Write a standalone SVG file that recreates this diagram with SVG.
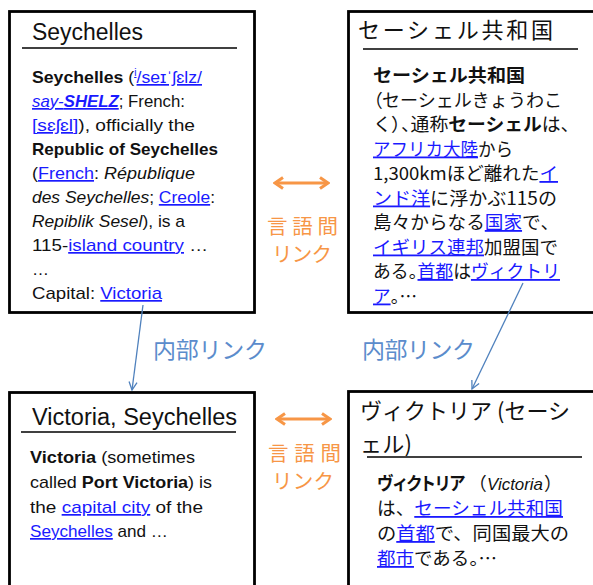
<svg xmlns="http://www.w3.org/2000/svg" width="593" height="585" viewBox="0 0 593 585">
<defs>
<style>
.box{fill:#fff;stroke:#000;stroke-width:2.8}
.rule{stroke:#000;stroke-width:1.5}
.t{font-family:"Liberation Sans",Arial,sans-serif;font-size:17px;fill:#111}
.title{font-family:"Liberation Sans",Arial,sans-serif;font-size:23px;fill:#111}
.jt{font-family:"Noto Sans CJK JP","Liberation Sans",sans-serif;font-size:22px;fill:#111}
.j{font-family:"Noto Sans CJK JP","Liberation Sans",sans-serif;font-size:18px;fill:#111}
.p{font-feature-settings:"palt"}
.b{font-weight:bold}
.i{font-style:italic}
.a{fill:#1a1aff;text-decoration:underline}
.blue{stroke:#4f81bd;stroke-width:1.3;fill:none}
.orange{stroke:#f79646;stroke-width:3;fill:none}
.lb{font-family:"Noto Sans CJK JP",sans-serif;font-size:23px;fill:#5b8ccc}
.lo{font-family:"Noto Sans CJK JP",sans-serif;font-size:20.5px;fill:#f79646}
</style>
<marker id="ab" viewBox="0 0 10 10" refX="9" refY="5" markerWidth="10" markerHeight="10" markerUnits="userSpaceOnUse" orient="auto"><path d="M1,1 L9,5 L1,9" fill="none" stroke="#4f81bd" stroke-width="1.3"/></marker>
<marker id="ao" viewBox="0 0 12 14" refX="10" refY="7" markerWidth="12" markerHeight="14" markerUnits="userSpaceOnUse" orient="auto-start-reverse"><path d="M2,1.5 L10,7 L2,12.5" fill="none" stroke="#f79646" stroke-width="3" stroke-linejoin="miter"/></marker>
</defs>
<rect width="593" height="585" fill="#fff"/>

<g id="seychelles-en">
<rect class="box" x="9.5" y="11.5" width="245" height="301"/>
<text class="title" x="32" y="40" textLength="111" lengthAdjust="spacingAndGlyphs">Seychelles</text>
<line class="rule" x1="22" y1="48" x2="237" y2="48"/>
<text class="t" x="32" y="83" textLength="170" lengthAdjust="spacingAndGlyphs"><tspan class="b">Seychelles</tspan> (<tspan class="a"><tspan font-size="10" dy="-7">i</tspan><tspan dy="7">/seɪˈʃɛlz/</tspan></tspan></text>
<text class="t" x="32" y="107" textLength="153" lengthAdjust="spacingAndGlyphs"><tspan class="a i">say-<tspan class="b">SHELZ</tspan></tspan>; French:</text>
<text class="t" x="32" y="131" textLength="163" lengthAdjust="spacingAndGlyphs"><tspan class="a">[sɛʃɛl]</tspan>), officially the</text>
<text class="t b" x="32" y="155" textLength="186" lengthAdjust="spacingAndGlyphs">Republic of Seychelles</text>
<text class="t" x="32" y="179" textLength="163" lengthAdjust="spacingAndGlyphs">(<tspan class="a">French</tspan>: <tspan class="i">République</tspan></text>
<text class="t" x="32" y="203" textLength="183" lengthAdjust="spacingAndGlyphs"><tspan class="i">des Seychelles</tspan>; <tspan class="a">Creole</tspan>:</text>
<text class="t" x="32" y="227" textLength="153" lengthAdjust="spacingAndGlyphs"><tspan class="i">Repiblik Sesel</tspan>), is a</text>
<text class="t" x="32" y="251" textLength="176" lengthAdjust="spacingAndGlyphs">115-<tspan class="a">island country</tspan> …</text>
<text class="t" x="32" y="275">…</text>
<text class="t" x="32" y="299" textLength="130" lengthAdjust="spacingAndGlyphs">Capital: <tspan class="a">Victoria</tspan></text>
</g>

<g id="seychelles-ja">
<rect class="box" x="348.5" y="11.5" width="260" height="301"/>
<text class="jt" x="358" y="38" textLength="195" lengthAdjust="spacing">セーシェル共和国</text>
<line class="rule" x1="363" y1="49" x2="578" y2="49"/>
<text class="j b" x="373" y="82" textLength="152" lengthAdjust="spacingAndGlyphs">セーシェル共和国</text>
<text class="j" x="373" y="106.5" textLength="189" lengthAdjust="spacingAndGlyphs"><tspan class="p">（</tspan>セーシェルきょうわこ</text>
<text class="j" x="373" y="131" textLength="197" lengthAdjust="spacingAndGlyphs">く<tspan class="p">）、</tspan>通称<tspan class="b">セーシェル</tspan>は<tspan class="p">、</tspan></text>
<text class="j" x="373" y="155.5" textLength="140" lengthAdjust="spacingAndGlyphs"><tspan class="a">アフリカ大陸</tspan>から</text>
<text class="j" x="373" y="180" textLength="185" lengthAdjust="spacingAndGlyphs">1,300kmほど離れた<tspan class="a">イ</tspan></text>
<text class="j" x="373" y="204.5" textLength="184" lengthAdjust="spacingAndGlyphs"><tspan class="a">ンド洋</tspan>に浮かぶ115の</text>
<text class="j" x="373" y="229" textLength="177" lengthAdjust="spacingAndGlyphs">島々からなる<tspan class="a">国家</tspan>で<tspan class="p">、</tspan></text>
<text class="j" x="373" y="253.5" textLength="185" lengthAdjust="spacingAndGlyphs"><tspan class="a">イギリス連邦</tspan>加盟国で</text>
<text class="j" x="373" y="278" textLength="187" lengthAdjust="spacingAndGlyphs">ある<tspan class="p">。</tspan><tspan class="a">首都</tspan>は<tspan class="a">ヴィクトリ</tspan></text>
<text class="j" x="373" y="302.5" textLength="44" lengthAdjust="spacingAndGlyphs"><tspan class="a">ア</tspan><tspan class="p">。…</tspan></text>
</g>

<g id="victoria-en">
<rect class="box" x="9.5" y="392.5" width="245" height="220"/>
<text class="title" x="32" y="425" textLength="205" lengthAdjust="spacingAndGlyphs">Victoria, Seychelles</text>
<line class="rule" x1="21" y1="432" x2="236" y2="432"/>
<text class="t" x="30" y="463" textLength="165" lengthAdjust="spacingAndGlyphs"><tspan class="b">Victoria</tspan> (sometimes</text>
<text class="t" x="30" y="488" textLength="182" lengthAdjust="spacingAndGlyphs">called <tspan class="b">Port Victoria</tspan>) is</text>
<text class="t" x="30" y="513" textLength="173" lengthAdjust="spacingAndGlyphs">the <tspan class="a">capital city</tspan> of the</text>
<text class="t" x="30" y="537" textLength="138" lengthAdjust="spacingAndGlyphs"><tspan class="a">Seychelles</tspan> and …</text>
</g>

<g id="victoria-ja">
<rect class="box" x="348.5" y="391.5" width="260" height="220"/>
<text class="jt" x="360" y="419" textLength="210" lengthAdjust="spacing">ヴィクトリア (セーシ</text>
<text class="jt" x="360" y="452" textLength="52" lengthAdjust="spacing">ェル)</text>
<line class="rule" x1="367" y1="457" x2="582" y2="457"/>
<text class="j b p" x="377" y="490" font-size="17" textLength="88" lengthAdjust="spacingAndGlyphs">ヴィクトリア</text>
<text class="j p" x="477" y="490" font-size="17">（</text>
<text class="t i" x="487" y="490" textLength="56" lengthAdjust="spacingAndGlyphs">Victoria</text>
<text class="j" x="544" y="490" font-size="17">）</text>
<text class="j" x="377" y="515" textLength="186" lengthAdjust="spacingAndGlyphs">は、<tspan class="a">セーシェル共和国</tspan></text>
<text class="j" x="377" y="540" textLength="192" lengthAdjust="spacingAndGlyphs">の<tspan class="a">首都</tspan>で、同国最大の</text>
<text class="j" x="377" y="565" textLength="120" lengthAdjust="spacingAndGlyphs"><tspan class="a">都市</tspan>である<tspan class="p">。…</tspan></text>
</g>

<g id="connectors">
<line class="blue" x1="143" y1="305" x2="132" y2="390" marker-end="url(#ab)"/>
<line class="blue" x1="523" y1="283" x2="472" y2="389" marker-end="url(#ab)"/>
<line class="orange" x1="275" y1="183" x2="328" y2="183" marker-start="url(#ao)" marker-end="url(#ao)"/>
<line class="orange" x1="277" y1="419" x2="330" y2="419" marker-start="url(#ao)" marker-end="url(#ao)"/>
<text class="lb" x="153" y="358" textLength="114" lengthAdjust="spacing">内部リンク</text>
<text class="lb" x="362" y="358" textLength="113" lengthAdjust="spacing">内部リンク</text>
<text class="lo" x="267" y="234" textLength="71" lengthAdjust="spacing">言語間</text>
<text class="lo" x="272" y="262" textLength="60" lengthAdjust="spacing">リンク</text>
<text class="lo" x="268" y="461" textLength="73" lengthAdjust="spacing">言語間</text>
<text class="lo" x="272" y="489" textLength="62" lengthAdjust="spacing">リンク</text>
</g>
</svg>
